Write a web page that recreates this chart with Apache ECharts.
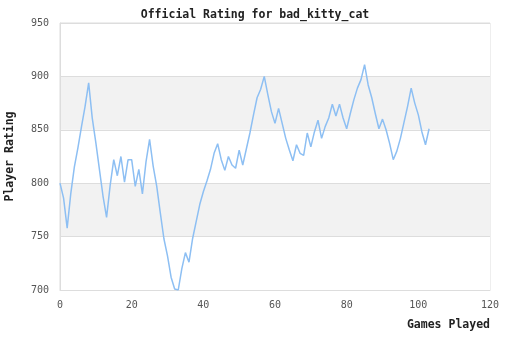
<!DOCTYPE html>
<html>
<head>
<meta charset="utf-8">
<script src="https://cdn.jsdelivr.net/npm/echarts@6/dist/echarts.min.js"></script>
<style>html,body{margin:0;padding:0;background:#fff;}#c{width:510px;height:340px;}</style>
</head>
<body>
<div id="c"></div>
<script>
var titleText = 'Official Rating for bad_kitty_cat';
var xName = 'Games Played';
var yName = 'Player Rating';
var games = [0,1,2,3,4,5,6,7,8,9,10,11,12,13,14,15,16,17,18,19,20,21,22,23,24,25,26,27,28,29,30,31,32,33,34,35,36,37,38,39,40,41,42,43,44,45,46,47,48,49,50,51,52,53,54,55,56,57,58,59,60,61,62,63,64,65,66,67,68,69,70,71,72,73,74,75,76,77,78,79,80,81,82,83,84,85,86,87,88,89,90,91,92,93,94,95,96,97,98,99,100,101,102,103];
var ratings = [800,786,758,790,815,833,853,872,894,861,838,813,788,768,798,822,807,825,801,822,822,797,813,790,820,841,816,797,772,748,732,712,701,700,720,735,726,748,764,780,792,802,813,828,837,822,812,825,817,814,831,817,832,847,864,880,888,900,883,867,856,870,856,842,831,821,836,828,826,847,834,848,859,842,853,861,874,863,874,861,851,865,878,889,897,911,892,880,865,851,860,850,837,822,830,842,857,872,889,875,864,848,836,851];

var pts = [];
for (var i = 0; i < games.length; i++) pts.push([games[i], ratings[i]]);

var mono = 'DejaVu Sans Mono';
var chart = echarts.init(document.getElementById('c'));
chart.setOption({
  animation: false,
  backgroundColor: '#fff',
  title: {
    text: titleText, left: 'center', top: 4,
    textStyle: {fontFamily: mono, fontSize: 11.5, fontWeight: 'bold', color: '#222'}
  },
  grid: {left: 60, right: 20, top: 23, bottom: 50, containLabel: false, outerBoundsMode: 'none', show: true, borderColor: '#ddd', borderWidth: 1, backgroundColor: 'transparent'},
  xAxis: {
    type: 'value', min: 0, max: 120, interval: 20,
    name: xName, nameLocation: 'end', nameGap: 0,
    nameTextStyle: {fontFamily: mono, fontSize: 11.5, fontWeight: 'bold', color: '#222', align: 'right', verticalAlign: 'top', padding: [29, 0, 0, 0]},
    axisLine: {show: true, lineStyle: {color: '#ddd'}},
    axisTick: {show: false},
    splitLine: {show: false},
    axisLabel: {fontFamily: mono, fontSize: 10, color: '#555', margin: 10}
  },
  yAxis: {
    type: 'value', min: 700, max: 950, interval: 50,
    name: yName, nameLocation: 'middle', nameGap: 44, nameRotate: 90,
    nameTextStyle: {fontFamily: mono, fontSize: 11.5, fontWeight: 'bold', color: '#222'},
    axisLine: {show: true, lineStyle: {color: '#ddd'}},
    axisTick: {show: false},
    splitLine: {show: true, lineStyle: {color: '#ddd'}},
    splitArea: {show: true, areaStyle: {color: ['#ffffff', '#f2f2f2']}},
    axisLabel: {fontFamily: mono, fontSize: 10, color: '#555', margin: 11}
  },
  series: [{
    type: 'line', data: pts, showSymbol: false, smooth: false,
    lineStyle: {color: '#8dbff3', width: 1.5}
  }]
});
</script>
</body>
</html>
